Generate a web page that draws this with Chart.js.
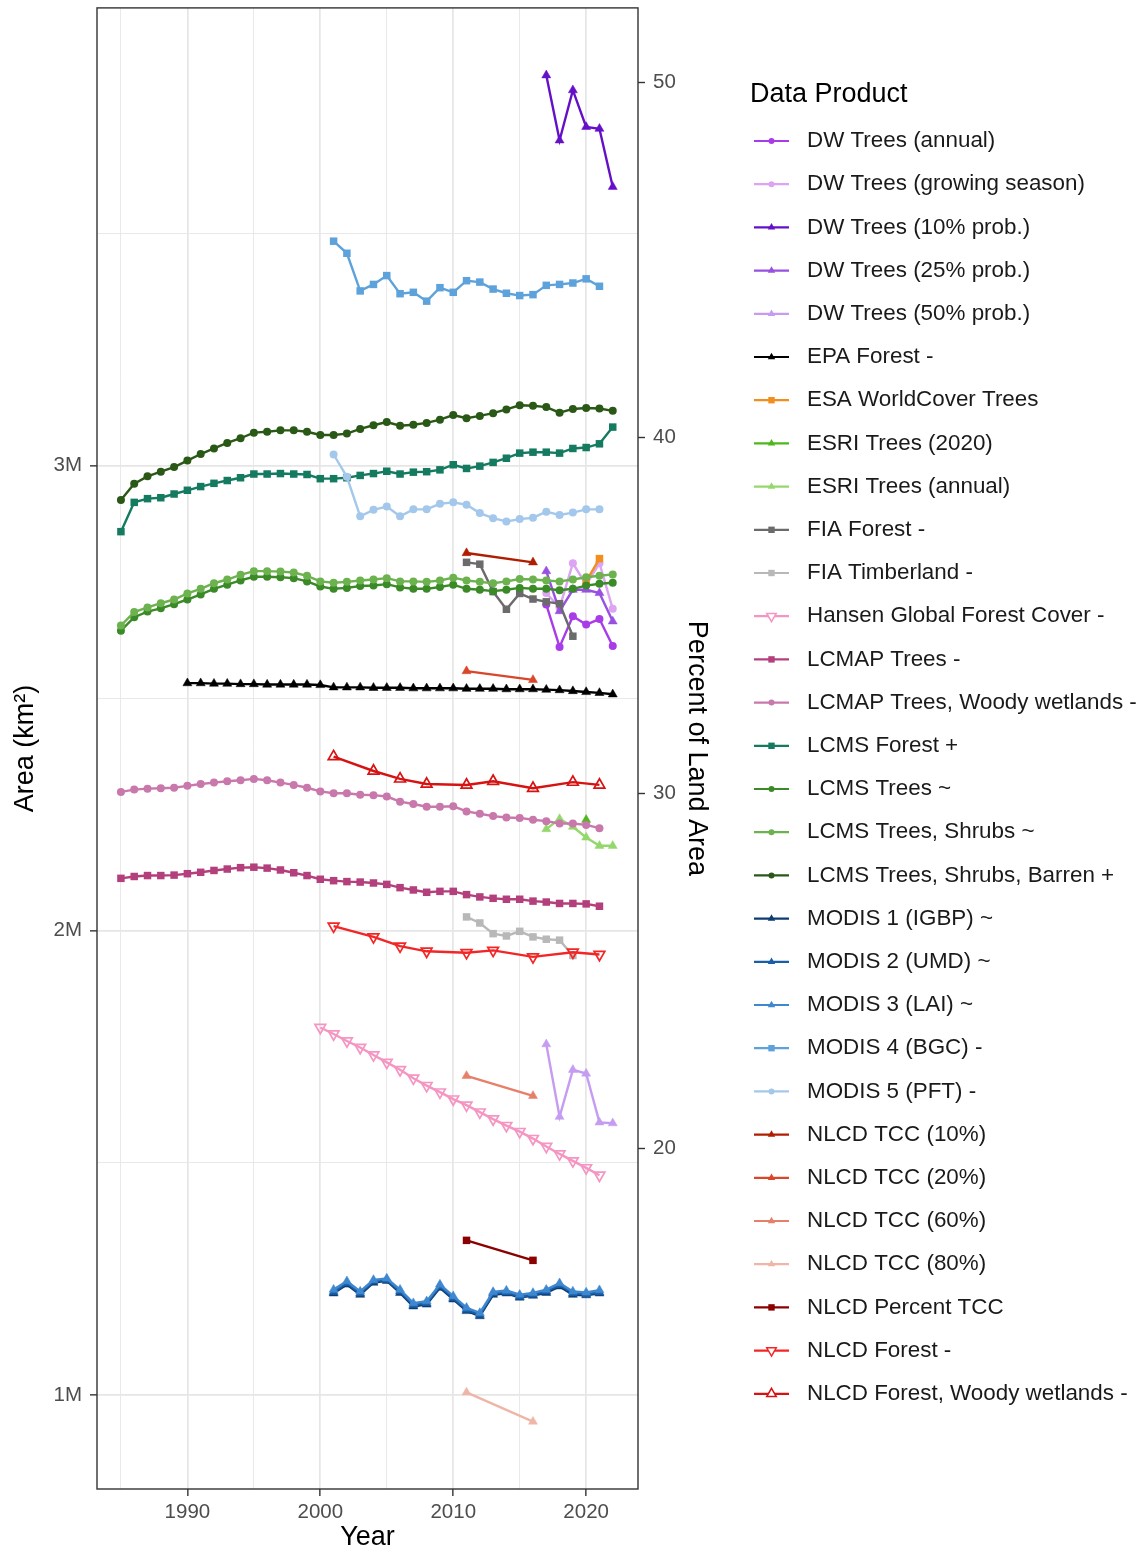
<!DOCTYPE html>
<html>
<head>
<meta charset="utf-8">
<title>Tree and forest area by data product</title>
<script src="https://cdn.jsdelivr.net/npm/chart.js@4.4.1/dist/chart.umd.min.js"></script>
<style>
    html, body { margin: 0; padding: 0; background: #fff; }
    #wrap { position: relative; width: 1147px; height: 1555px; }
</style>
</head>
<body>
<div id="wrap"><canvas id="areaChart"></canvas></div>
<script>
'use strict';

// years (x categories)
const YEARS_1985_2022 = [1985, 1986, 1987, 1988, 1989, 1990, 1991, 1992, 1993, 1994, 1995, 1996, 1997, 1998, 1999, 2000, 2001, 2002, 2003, 2004, 2005, 2006, 2007, 2008, 2009, 2010, 2011, 2012, 2013, 2014, 2015, 2016, 2017, 2018, 2019, 2020, 2021, 2022];
const YEARS_1985_2021 = [1985, 1986, 1987, 1988, 1989, 1990, 1991, 1992, 1993, 1994, 1995, 1996, 1997, 1998, 1999, 2000, 2001, 2002, 2003, 2004, 2005, 2006, 2007, 2008, 2009, 2010, 2011, 2012, 2013, 2014, 2015, 2016, 2017, 2018, 2019, 2020, 2021];
const YEARS_1990_2022 = [1990, 1991, 1992, 1993, 1994, 1995, 1996, 1997, 1998, 1999, 2000, 2001, 2002, 2003, 2004, 2005, 2006, 2007, 2008, 2009, 2010, 2011, 2012, 2013, 2014, 2015, 2016, 2017, 2018, 2019, 2020, 2021, 2022];
const YEARS_2000_2021 = [2000, 2001, 2002, 2003, 2004, 2005, 2006, 2007, 2008, 2009, 2010, 2011, 2012, 2013, 2014, 2015, 2016, 2017, 2018, 2019, 2020, 2021];
const YEARS_2001_2021 = [2001, 2002, 2003, 2004, 2005, 2006, 2007, 2008, 2009, 2010, 2011, 2012, 2013, 2014, 2015, 2016, 2017, 2018, 2019, 2020, 2021];
const YEARS_DW = [2017, 2018, 2019, 2020, 2021, 2022];
const YEARS_FIA = [2011, 2012, 2013, 2014, 2015, 2016, 2017, 2018, 2019];
const YEARS_NLCD = [2001, 2004, 2006, 2008, 2011, 2013, 2016, 2019, 2021];
const YEARS_TCC = [2011, 2016];
const YEARS_ESA = [2020, 2021];
const YEARS_ESRI_2020 = [2020];

// areas, million km2
const dwAnnual = [2.701, 2.610, 2.676, 2.658, 2.670, 2.612];
const dwGrowing = [2.726, 2.694, 2.790, 2.744, 2.790, 2.692];
const dw10 = [3.840, 3.700, 3.808, 3.729, 3.725, 3.600];
const dw25 = [2.773, 2.687, 2.733, 2.733, 2.726, 2.665];
const dw50 = [1.755, 1.599, 1.700, 1.692, 1.587, 1.585];
const epaForest = [2.532, 2.532, 2.531, 2.531, 2.530, 2.530, 2.529, 2.529, 2.529, 2.529, 2.528, 2.523, 2.523, 2.523, 2.522, 2.522, 2.522, 2.521, 2.521, 2.521, 2.521, 2.520, 2.520, 2.520, 2.519, 2.519, 2.519, 2.518, 2.517, 2.515, 2.513, 2.511, 2.508];
const esaTrees = [2.751, 2.800];
const esri2020 = [2.238];
const esriAnnual = [2.218, 2.240, 2.223, 2.200, 2.182, 2.182];
const fiaForest = [2.792, 2.788, 2.729, 2.691, 2.725, 2.713, 2.707, 2.703, 2.633];
const fiaTimberland = [2.029, 2.016, 1.993, 1.988, 1.998, 1.986, 1.981, 1.979, 1.946];
const hansen = [1.791, 1.777, 1.762, 1.748, 1.732, 1.716, 1.700, 1.682, 1.666, 1.652, 1.637, 1.624, 1.609, 1.594, 1.580, 1.567, 1.552, 1.535, 1.519, 1.504, 1.489, 1.473];
const lcmapTrees = [2.112, 2.116, 2.118, 2.118, 2.119, 2.122, 2.125, 2.129, 2.132, 2.135, 2.136, 2.134, 2.130, 2.124, 2.118, 2.110, 2.107, 2.105, 2.104, 2.102, 2.099, 2.092, 2.087, 2.082, 2.084, 2.084, 2.077, 2.072, 2.069, 2.067, 2.067, 2.063, 2.061, 2.058, 2.058, 2.057, 2.052];
const lcmapWoody = [2.298, 2.303, 2.305, 2.306, 2.307, 2.311, 2.315, 2.318, 2.321, 2.323, 2.326, 2.323, 2.318, 2.313, 2.307, 2.299, 2.295, 2.295, 2.292, 2.291, 2.288, 2.277, 2.272, 2.266, 2.266, 2.267, 2.256, 2.251, 2.246, 2.243, 2.242, 2.238, 2.235, 2.230, 2.230, 2.227, 2.220];
const lcmsForest = [2.858, 2.921, 2.929, 2.931, 2.939, 2.947, 2.955, 2.962, 2.968, 2.974, 2.982, 2.982, 2.983, 2.982, 2.981, 2.972, 2.972, 2.974, 2.979, 2.983, 2.988, 2.982, 2.986, 2.987, 2.991, 3.002, 2.994, 2.999, 3.007, 3.016, 3.027, 3.029, 3.029, 3.027, 3.037, 3.039, 3.047, 3.083];
const lcmsTrees = [2.645, 2.674, 2.686, 2.693, 2.702, 2.712, 2.723, 2.735, 2.744, 2.753, 2.761, 2.761, 2.760, 2.758, 2.751, 2.740, 2.735, 2.737, 2.741, 2.742, 2.745, 2.738, 2.735, 2.735, 2.739, 2.744, 2.735, 2.733, 2.730, 2.733, 2.737, 2.735, 2.735, 2.732, 2.735, 2.742, 2.746, 2.748];
const lcmsTreesShrubs = [2.656, 2.685, 2.695, 2.704, 2.712, 2.725, 2.735, 2.747, 2.755, 2.765, 2.773, 2.773, 2.772, 2.770, 2.763, 2.751, 2.748, 2.750, 2.753, 2.755, 2.758, 2.751, 2.751, 2.750, 2.753, 2.759, 2.753, 2.750, 2.747, 2.751, 2.756, 2.755, 2.753, 2.751, 2.755, 2.760, 2.763, 2.766];
const lcmsTSB = [2.926, 2.961, 2.977, 2.987, 2.997, 3.011, 3.025, 3.037, 3.049, 3.059, 3.071, 3.073, 3.076, 3.076, 3.073, 3.066, 3.066, 3.069, 3.079, 3.087, 3.094, 3.086, 3.088, 3.092, 3.099, 3.109, 3.102, 3.107, 3.113, 3.121, 3.130, 3.129, 3.126, 3.114, 3.122, 3.124, 3.123, 3.118];
const modis1 = [1.219, 1.238, 1.216, 1.242, 1.246, 1.220, 1.191, 1.195, 1.231, 1.206, 1.181, 1.170, 1.216, 1.219, 1.210, 1.214, 1.220, 1.234, 1.216, 1.215, 1.219];
const modis2 = [1.222, 1.241, 1.219, 1.245, 1.248, 1.223, 1.194, 1.198, 1.234, 1.209, 1.184, 1.173, 1.219, 1.221, 1.212, 1.216, 1.223, 1.237, 1.219, 1.217, 1.221];
const modis3 = [1.227, 1.245, 1.223, 1.248, 1.251, 1.227, 1.198, 1.202, 1.238, 1.213, 1.188, 1.177, 1.222, 1.225, 1.216, 1.220, 1.227, 1.241, 1.223, 1.221, 1.226];
const modis4 = [3.483, 3.457, 3.376, 3.390, 3.409, 3.370, 3.373, 3.354, 3.383, 3.373, 3.398, 3.395, 3.380, 3.371, 3.366, 3.368, 3.388, 3.390, 3.393, 3.402, 3.386];
const modis5 = [3.024, 2.976, 2.891, 2.905, 2.912, 2.891, 2.906, 2.906, 2.918, 2.921, 2.916, 2.898, 2.887, 2.880, 2.885, 2.888, 2.901, 2.894, 2.899, 2.906, 2.906];
const tcc10 = [2.812, 2.792];
const tcc20 = [2.558, 2.539];
const tcc60 = [1.687, 1.644];
const tcc80 = [1.006, 0.943];
const percentTcc = [1.333, 1.290];
const nlcdForest = [2.009, 1.986, 1.966, 1.955, 1.952, 1.957, 1.943, 1.953, 1.948];
const nlcdForestWoody = [2.374, 2.343, 2.326, 2.315, 2.313, 2.321, 2.306, 2.319, 2.313];

// axis ticks
const X_TICKS = [1985, 1990, 1995, 2000, 2005, 2010, 2015, 2020];
const Y_TICKS = [1, 1.5, 2, 2.5, 3, 3.5];
const PCT_TICKS = [20, 30, 40, 50];
const LAND_AREA = 7.65; // million km2 = 100 %

const series = [
    ['DW Trees (annual)', YEARS_DW, dwAnnual, '#a83ce8', 'circle'],
    ['DW Trees (growing season)', YEARS_DW, dwGrowing, '#dca4f2', 'circle'],
    ['DW Trees (10% prob.)', YEARS_DW, dw10, '#6410c8', 'tri'],
    ['DW Trees (25% prob.)', YEARS_DW, dw25, '#9850e0', 'tri'],
    ['DW Trees (50% prob.)', YEARS_DW, dw50, '#c59cf2', 'tri'],
    ['EPA Forest -', YEARS_1990_2022, epaForest, '#000000', 'tri'],
    ['ESA WorldCover Trees', YEARS_ESA, esaTrees, '#f28e1e', 'square'],
    ['ESRI Trees (2020)', YEARS_ESRI_2020, esri2020, '#4cb81c', 'tri'],
    ['ESRI Trees (annual)', YEARS_DW, esriAnnual, '#94d86c', 'tri'],
    ['FIA Forest -', YEARS_FIA, fiaForest, '#6b6b6b', 'square'],
    ['FIA Timberland -', YEARS_FIA, fiaTimberland, '#b8b8b8', 'square'],
    ['Hansen Global Forest Cover -', YEARS_2000_2021, hansen, '#f595c2', 'triDownOpen'],
    ['LCMAP Trees -', YEARS_1985_2021, lcmapTrees, '#b3407c', 'square'],
    ['LCMAP Trees, Woody wetlands -', YEARS_1985_2021, lcmapWoody, '#c978ab', 'circle'],
    ['LCMS Forest +', YEARS_1985_2022, lcmsForest, '#147a60', 'square'],
    ['LCMS Trees ~', YEARS_1985_2022, lcmsTrees, '#3b8a28', 'circle'],
    ['LCMS Trees, Shrubs ~', YEARS_1985_2022, lcmsTreesShrubs, '#6cb24e', 'circle'],
    ['LCMS Trees, Shrubs, Barren +', YEARS_1985_2022, lcmsTSB, '#2a5816', 'circle'],
    ['MODIS 1 (IGBP) ~', YEARS_2001_2021, modis1, '#0c3c72', 'tri'],
    ['MODIS 2 (UMD) ~', YEARS_2001_2021, modis2, '#1a5ea8', 'tri'],
    ['MODIS 3 (LAI) ~', YEARS_2001_2021, modis3, '#3f88d0', 'tri'],
    ['MODIS 4 (BGC) -', YEARS_2001_2021, modis4, '#5ea2dc', 'square'],
    ['MODIS 5 (PFT) -', YEARS_2001_2021, modis5, '#a4c8ec', 'circle'],
    ['NLCD TCC (10%)', YEARS_TCC, tcc10, '#b01e02', 'tri'],
    ['NLCD TCC (20%)', YEARS_TCC, tcc20, '#d9472a', 'tri'],
    ['NLCD TCC (60%)', YEARS_TCC, tcc60, '#e6806a', 'tri'],
    ['NLCD TCC (80%)', YEARS_TCC, tcc80, '#efb6a8', 'tri'],
    ['NLCD Percent TCC', YEARS_TCC, percentTcc, '#8b0000', 'square'],
    ['NLCD Forest -', YEARS_NLCD, nlcdForest, '#f22626', 'triDownOpen'],
    ['NLCD Forest, Woody wetlands -', YEARS_NLCD, nlcdForestWoody, '#d61212', 'triUpOpen']
];

const FONT = '"Liberation Sans", Arial, sans-serif';

function markerOptions(marker, color) {
    if (marker === 'circle') return { pointStyle: 'circle', pointRadius: 4, pointRotation: 0, pointBackgroundColor: color, pointBorderWidth: 0 };
    if (marker === 'square') return { pointStyle: 'rect', pointRadius: 5.3, pointRotation: 0, pointBackgroundColor: color, pointBorderWidth: 0 };
    if (marker === 'tri') return { pointStyle: 'triangle', pointRadius: 5.2, pointRotation: 0, pointBackgroundColor: color, pointBorderWidth: 0.5 };
    return {
        pointStyle: 'triangle', pointRadius: 6.2, pointRotation: marker === 'triDownOpen' ? 180 : 0,
        pointBackgroundColor: 'rgba(0,0,0,0)', pointBorderWidth: 1.7
    };
}

function drawKeyMarker(ctx, marker, x, y, color) {
    ctx.beginPath();
    if (marker === 'circle') {
        ctx.arc(x, y, 3, 0, Math.PI * 2);
        ctx.fillStyle = color;
        ctx.fill();
        return;
    }
    if (marker === 'square') {
        ctx.fillStyle = color;
        ctx.fillRect(x - 3.2, y - 3.2, 6.4, 6.4);
        return;
    }
    const open = marker !== 'tri';
    const r = open ? 5.5 : 4.3;
    const s = marker === 'triDownOpen' ? -1 : 1;
    ctx.moveTo(x, y - s * r);
    ctx.lineTo(x + r * 0.866, y + s * r / 2);
    ctx.lineTo(x - r * 0.866, y + s * r / 2);
    ctx.closePath();
    if (open) {
        ctx.fillStyle = '#fff';
        ctx.fill();
        ctx.lineWidth = 1.5;
        ctx.strokeStyle = color;
        ctx.stroke();
    } else {
        ctx.fillStyle = color;
        ctx.fill();
    }
}

const panelBorder = {
    id: 'panelBorder',
    afterDatasetsDraw(chart) {
        const a = chart.chartArea;
        const ctx = chart.ctx;
        ctx.save();
        ctx.strokeStyle = '#333333';
        ctx.lineWidth = 1.4;
        ctx.strokeRect(a.left, a.top, a.right - a.left, a.bottom - a.top);
        ctx.restore();
    }
};

const sideLegend = {
    id: 'sideLegend',
    afterDraw(chart) {
        const ctx = chart.ctx;
        ctx.save();
        ctx.textBaseline = 'middle';
        ctx.textAlign = 'left';
        ctx.fillStyle = '#000';
        ctx.font = '27px ' + FONT;
        ctx.fillText('Data Product', 750, 95);
        ctx.font = '22.4px ' + FONT;
        chart.data.datasets.forEach((ds, i) => {
            const y = 141 + i * 43.2;
            ctx.beginPath();
            ctx.strokeStyle = ds.borderColor;
            ctx.lineWidth = 2.2;
            ctx.moveTo(754, y);
            ctx.lineTo(789, y);
            ctx.stroke();
            drawKeyMarker(ctx, ds.keyMarker, 771.5, y, ds.borderColor);
            ctx.fillStyle = '#1a1a1a';
            ctx.fillText(ds.label, 807, y);
        });
        ctx.restore();
    }
};

function initAreaChart() {
    const ctx = document.getElementById('areaChart');
    if (!ctx) return;

    Chart.defaults.font.family = FONT;

    const datasets = series.map(([label, years, values, color, marker], i) => Object.assign({
        label: label,
        data: years.map((yr, j) => ({ x: yr, y: values[j] })),
        borderColor: color,
        pointBorderColor: color,
        borderWidth: 2.4,
        tension: 0,
        fill: false,
        order: -i,
        keyMarker: marker
    }, markerOptions(marker, color)));

    const yMin = 0.798, yMax = 3.985;
    const gridColor = '#e6e6e6';
    const tickFont = { size: 20.5 };
    const titleFont = { size: 27, lineHeight: 1.2 };

    new Chart(ctx, {
        type: 'line',
        data: { datasets: datasets },
        options: {
            responsive: true,
            maintainAspectRatio: false,
            animation: false,
            events: [],
            layout: { padding: { left: 0, top: 5, right: 429, bottom: 0 } },
            plugins: { legend: { display: false }, tooltip: { enabled: false } },
            scales: {
                x: {
                    type: 'linear',
                    min: 1983.2,
                    max: 2023.9,
                    afterBuildTicks: s => { s.ticks = X_TICKS.map(v => ({ value: v })); },
                    afterFit: s => { s.height = 66; s.paddingLeft = 0; s.paddingRight = 0; },
                    border: { display: false },
                    grid: {
                        color: gridColor,
                        lineWidth: c => (c.tick && c.tick.value % 10 === 0 ? 1.7 : 0.9),
                        tickLength: 7,
                        tickWidth: 1.4,
                        tickColor: c => (c.tick && c.tick.value % 10 === 0 ? '#333333' : 'rgba(0,0,0,0)')
                    },
                    ticks: {
                        autoSkip: false, maxRotation: 0, padding: 4, color: '#4d4d4d', font: tickFont,
                        callback: v => (v % 10 === 0 ? String(v) : '')
                    },
                    title: { display: true, text: 'Year', color: '#000', font: titleFont, padding: 1 }
                },
                y: {
                    type: 'linear',
                    position: 'left',
                    min: yMin,
                    max: yMax,
                    afterBuildTicks: s => { s.ticks = Y_TICKS.map(v => ({ value: v })); },
                    afterFit: s => { s.width = 97; s.paddingTop = 0; s.paddingBottom = 0; },
                    border: { display: false },
                    grid: {
                        color: gridColor,
                        lineWidth: c => (c.tick && Number.isInteger(c.tick.value) ? 1.7 : 0.9),
                        tickLength: 7,
                        tickWidth: 1.4,
                        tickColor: c => (c.tick && Number.isInteger(c.tick.value) ? '#333333' : 'rgba(0,0,0,0)')
                    },
                    ticks: {
                        padding: 8, color: '#4d4d4d', font: tickFont,
                        callback: v => (Number.isInteger(v) ? v + 'M' : '')
                    },
                    title: { display: true, text: 'Area (km²)', color: '#000', font: titleFont, padding: 9 }
                },
                y2: {
                    type: 'linear',
                    position: 'right',
                    display: true,
                    min: yMin * 100 / LAND_AREA,
                    max: yMax * 100 / LAND_AREA,
                    afterBuildTicks: s => { s.ticks = PCT_TICKS.map(v => ({ value: v })); },
                    afterFit: s => { s.width = 80; s.paddingTop = 0; s.paddingBottom = 0; },
                    border: { display: false },
                    grid: { drawOnChartArea: false, tickLength: 7, tickWidth: 1.4, tickColor: '#333333' },
                    ticks: { padding: 8, color: '#4d4d4d', font: tickFont },
                    title: { display: true, text: 'Percent of Land Area', color: '#000', font: titleFont, padding: 5 }
                }
            }
        },
        plugins: [panelBorder, sideLegend]
    });
}

initAreaChart();
</script>
</body>
</html>
